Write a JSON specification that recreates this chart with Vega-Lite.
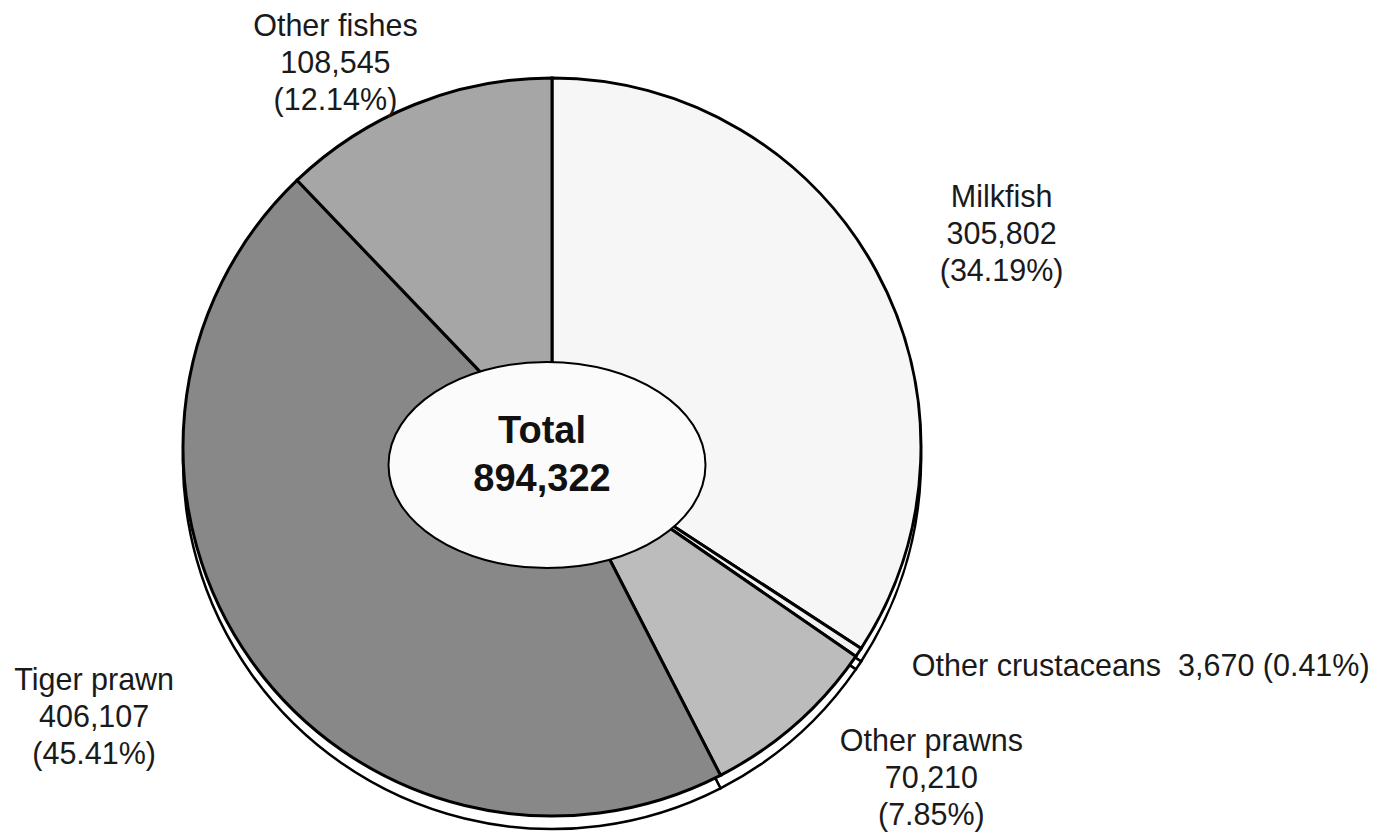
{
  "$schema": "https://vega.github.io/schema/vega-lite/v6.json",
  "width": 1000,
  "height": 700,
  "autosize": {"type": "none"},
  "padding": {"left": 52, "right": 337, "top": 97, "bottom": 40},
  "background": "white",
  "config": {"view": {"stroke": null}, "font": "Liberation Sans"},
  "data": {
    "values": [
      {"category": "Milkfish", "idx": 1, "value": 305802, "label": ["Milkfish", "305,802", "(34.19%)"]},
      {"category": "Other crustaceans", "idx": 2, "value": 3670, "label": "Other crustaceans \u00a03,670 (0.41%)"},
      {"category": "Other prawns", "idx": 3, "value": 70210, "label": ["Other prawns", "70,210", "(7.85%)"]},
      {"category": "Tiger prawn", "idx": 4, "value": 406107, "label": ["Tiger prawn", "406,107", "(45.41%)"]},
      {"category": "Other fishes", "idx": 5, "value": 108545, "label": ["Other fishes", "108,545", "(12.14%)"]}
    ]
  },
  "layer": [
    {
      "mark": {"type": "arc", "outerRadius": 369, "fill": "white", "stroke": "black", "strokeWidth": 2.5, "yOffset": 13},
      "encoding": {
        "theta": {"field": "value", "type": "quantitative", "stack": true},
        "order": {"field": "idx", "type": "quantitative"},
        "detail": {"field": "category", "type": "nominal"}
      }
    },
    {
      "mark": {"type": "arc", "outerRadius": 369, "stroke": "black", "strokeWidth": 3},
      "encoding": {
        "theta": {"field": "value", "type": "quantitative", "stack": true},
        "order": {"field": "idx", "type": "quantitative"},
        "color": {
          "field": "category", "type": "nominal", "legend": null,
          "scale": {
            "domain": ["Milkfish", "Other crustaceans", "Other prawns", "Tiger prawn", "Other fishes"],
            "range": ["#f6f6f6", "#f2f2f2", "#bcbcbc", "#888888", "#a6a6a6"]
          }
        }
      }
    },
    {
      "data": {"values": [{"name": "hole"}]},
      "mark": {
        "type": "point",
        "shape": "M -1 0 C -1 -0.359 -0.5523 -0.65 0 -0.65 C 0.5523 -0.65 1 -0.359 1 0 C 1 0.359 0.5523 0.65 0 0.65 C -0.5523 0.65 -1 0.359 -1 0 Z",
        "size": 100489,
        "filled": true,
        "fill": "#fbfbfb",
        "stroke": "black",
        "strokeWidth": 2,
        "opacity": 1,
        "xOffset": -5,
        "yOffset": 18
      },
      "encoding": {}
    },
    {
      "data": {"values": [{"label": ["Total", "894,322"]}]},
      "mark": {"type": "text", "fontSize": 38, "fontWeight": "bold", "lineHeight": 48, "align": "center", "baseline": "middle", "dx": -10, "dy": -15, "color": "#111"},
      "encoding": {"text": {"field": "label", "type": "nominal"}}
    },
    {
      "mark": {"type": "text", "radius": 500, "fontSize": 30.5, "lineHeight": 37, "align": "center", "baseline": "middle", "dx": 10, "dy": -11, "color": "#1a1a1a"},
      "encoding": {
        "theta": {"field": "value", "type": "quantitative", "stack": true},
        "order": {"field": "idx", "type": "quantitative"},
        "detail": {"field": "category", "type": "nominal"},
        "text": {"condition": {"test": "datum.category === 'Milkfish'", "field": "label"}, "value": ""}
      }
    },
    {
      "mark": {"type": "text", "radius": 420, "fontSize": 30.5, "lineHeight": 37, "align": "left", "baseline": "middle", "dx": 11, "dy": -14, "color": "#1a1a1a"},
      "encoding": {
        "theta": {"field": "value", "type": "quantitative", "stack": true},
        "order": {"field": "idx", "type": "quantitative"},
        "detail": {"field": "category", "type": "nominal"},
        "text": {"condition": {"test": "datum.category === 'Other crustaceans'", "field": "label"}, "value": ""}
      }
    },
    {
      "mark": {"type": "text", "radius": 490, "fontSize": 30.5, "lineHeight": 37, "align": "center", "baseline": "middle", "dx": 56, "dy": -73, "color": "#1a1a1a"},
      "encoding": {
        "theta": {"field": "value", "type": "quantitative", "stack": true},
        "order": {"field": "idx", "type": "quantitative"},
        "detail": {"field": "category", "type": "nominal"},
        "text": {"condition": {"test": "datum.category === 'Other prawns'", "field": "label"}, "value": ""}
      }
    },
    {
      "mark": {"type": "text", "radius": 530, "fontSize": 30.5, "lineHeight": 37, "align": "center", "baseline": "middle", "dx": -26, "dy": -73, "color": "#1a1a1a"},
      "encoding": {
        "theta": {"field": "value", "type": "quantitative", "stack": true},
        "order": {"field": "idx", "type": "quantitative"},
        "detail": {"field": "category", "type": "nominal"},
        "text": {"condition": {"test": "datum.category === 'Tiger prawn'", "field": "label"}, "value": ""}
      }
    },
    {
      "mark": {"type": "text", "radius": 410, "fontSize": 30.5, "lineHeight": 37, "align": "center", "baseline": "middle", "dx": -64, "dy": -39, "color": "#1a1a1a"},
      "encoding": {
        "theta": {"field": "value", "type": "quantitative", "stack": true},
        "order": {"field": "idx", "type": "quantitative"},
        "detail": {"field": "category", "type": "nominal"},
        "text": {"condition": {"test": "datum.category === 'Other fishes'", "field": "label"}, "value": ""}
      }
    }
  ]
}
